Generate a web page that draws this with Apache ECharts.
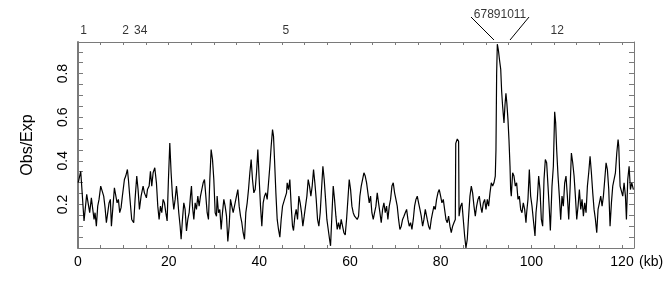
<!DOCTYPE html>
<html><head><meta charset="utf-8">
<script src="https://cdn.jsdelivr.net/npm/echarts@6/dist/echarts.min.js"></script>
<style>html,body{margin:0;padding:0;background:#fff}#c{width:671px;height:301px}</style>
</head><body><div id="c"></div>
<script>
// ---- data ----
const xTickLabels = [0, 20, 40, 60, 80, 100, 120];
const yTickLabels = [0.2, 0.4, 0.6, 0.8];
const geneNames = ['1', '2', '34', '5', '67891011', '12'];
const genePositions = [1.25, 10.5, 13.85, 45.85, 93.1, 105.7];
const geneRaised = [false, false, false, false, true, false];
const leaderKb = [91.77, 95.3];
// [position (kb), Obs/Exp]
const profile = [
[0.05,0.300],[0.6,0.352],[1.33,0.124],[1.92,0.246],[2.29,0.238],[2.58,0.162],[2.95,0.230],[3.17,0.192],[3.54,0.131],[3.76,0.162],[4.05,0.100],[4.35,0.192],[4.64,0.223],[5.01,0.284],[5.38,0.291],[5.67,0.238],[5.97,0.185],[6.26,0.116],[6.56,0.162],[6.85,0.207],[7.14,0.223],[7.37,0.100],[7.66,0.177],[8.03,0.276],[8.32,0.268],[8.62,0.207],[8.91,0.223],[9.2,0.162],[9.5,0.185],[9.79,0.238],[10.24,0.314],[10.53,0.330],[10.9,0.360],[11.12,0.314],[11.41,0.238],[11.85,0.131],[12.29,0.116],[12.59,0.223],[12.96,0.330],[13.25,0.268],[13.55,0.177],[13.92,0.238],[14.36,0.284],[14.65,0.253],[15.09,0.230],
[15.32,0.268],[15.69,0.284],[15.98,0.352],[16.27,0.284],[16.57,0.345],[16.94,0.368],[17.3,0.299],[17.6,0.192],[17.89,0.131],[18.19,0.192],[18.48,0.162],[18.78,0.223],[19.07,0.207],[19.37,0.162],[19.66,0.124],[19.95,0.314],[20.25,0.482],[20.54,0.345],[20.84,0.238],[21.13,0.177],[21.43,0.223],[21.72,0.284],[21.94,0.238],[22.23,0.162],[22.53,0.100],[22.75,0.040],[23.04,0.131],[23.34,0.207],[23.63,0.177],[23.93,0.078],[24.22,0.131],[24.52,0.162],[24.81,0.238],[25.03,0.284],[25.25,0.192],[25.55,0.131],[25.84,0.207],[26.13,0.177],[26.43,0.238],[26.72,0.192],[27.02,0.238],[27.31,0.268],[27.61,0.299],[27.9,0.314],[28.2,0.238],[28.49,0.162],[28.78,0.131],[29.08,0.314],[29.37,0.452],[29.67,0.406],[29.96,0.314],[30.26,0.162],[30.55,0.146],
[30.69,0.238],[30.99,0.162],[31.28,0.177],[31.58,0.085],[31.87,0.162],[32.17,0.223],[32.46,0.192],[32.76,0.146],[33.05,0.030],[33.34,0.100],[33.64,0.223],[33.93,0.192],[34.23,0.162],[34.52,0.192],[34.96,0.238],[35.26,0.268],[35.55,0.192],[35.85,0.146],[36.14,0.116],[36.43,0.070],[36.73,0.040],[37.02,0.162],[37.32,0.207],[37.61,0.268],[37.91,0.345],[38.2,0.406],[38.49,0.314],[38.79,0.253],[39.08,0.268],[39.38,0.345],[39.67,0.452],[39.97,0.314],[40.26,0.192],[40.55,0.100],[40.85,0.207],[41.14,0.238],[41.44,0.253],[41.73,0.223],[42.03,0.299],[42.32,0.375],[42.61,0.467],[42.91,0.543],[43.13,0.513],[43.35,0.406],[43.65,0.253],[43.94,0.131],[44.23,0.085],[44.53,0.050],[44.82,0.131],[45.12,0.192],[45.56,0.223],[46.0,0.253],
[46.14,0.299],[46.44,0.268],[46.73,0.314],[47.03,0.192],[47.32,0.100],[47.54,0.080],[47.84,0.146],[48.13,0.177],[48.43,0.131],[48.72,0.238],[49.01,0.207],[49.31,0.162],[49.6,0.100],[49.9,0.146],[50.19,0.192],[50.49,0.238],[50.78,0.314],[51.07,0.284],[51.37,0.238],[51.66,0.284],[51.96,0.360],[52.25,0.299],[52.55,0.223],[52.84,0.131],[53.13,0.100],[53.43,0.162],[53.72,0.268],[54.02,0.375],[54.31,0.314],[54.61,0.223],[54.9,0.131],[55.2,0.085],[55.49,0.040],[55.71,0.010],[56.0,0.146],[56.3,0.284],[56.59,0.223],[56.89,0.146],[57.18,0.085],[57.48,0.116],[57.77,0.085],[58.06,0.131],[58.36,0.100],[58.65,0.070],[58.95,0.060],[59.24,0.131],[59.54,0.223],[59.83,0.314],[60.13,0.268],[60.42,0.192],[60.71,0.162],[61.01,0.146],
[61.59,0.131],[61.89,0.146],[62.18,0.238],[62.48,0.284],[62.77,0.314],[63.07,0.345],[63.36,0.330],[63.66,0.299],[63.95,0.253],[64.24,0.207],[64.54,0.238],[64.83,0.162],[65.13,0.131],[65.42,0.162],[65.72,0.192],[66.01,0.253],[66.3,0.207],[66.6,0.162],[66.89,0.116],[67.19,0.177],[67.48,0.207],[67.78,0.162],[68.07,0.192],[68.36,0.131],[68.66,0.192],[68.95,0.223],[69.25,0.284],[69.54,0.299],[69.84,0.253],[70.13,0.223],[70.42,0.192],[70.72,0.131],[71.01,0.085],[71.31,0.100],[71.6,0.131],[71.9,0.146],[72.19,0.162],[72.49,0.177],[72.78,0.131],[73.07,0.100],[73.37,0.116],[73.66,0.085],[73.96,0.131],[74.25,0.192],[74.55,0.223],[74.84,0.238],[75.13,0.207],[75.43,0.177],[75.72,0.146],[76.02,0.100],[76.31,0.131],[76.61,0.177],
[77.04,0.131],[77.34,0.100],[77.63,0.085],[77.93,0.131],[78.22,0.162],[78.52,0.192],[78.81,0.177],[79.1,0.223],[79.4,0.253],[79.69,0.268],[79.99,0.238],[80.28,0.207],[80.58,0.223],[80.87,0.177],[81.17,0.131],[81.46,0.116],[81.75,0.146],[82.05,0.100],[82.34,0.070],[82.64,0.100],[82.93,0.116],[83.23,0.131],[83.33,0.480],[83.67,0.500],[83.96,0.490],[84.06,0.146],[84.4,0.192],[84.7,0.207],[84.99,0.131],[85.29,0.055],[85.58,0.000],[85.87,0.040],[86.17,0.146],[86.46,0.238],[86.76,0.284],[87.05,0.253],[87.35,0.192],[87.64,0.146],[87.93,0.192],[88.23,0.223],[88.52,0.238],[88.82,0.192],[89.11,0.162],[89.41,0.207],[89.7,0.223],[90.0,0.177],[90.29,0.223],[90.58,0.192],[90.88,0.253],[91.17,0.299],[91.47,0.284],[91.76,0.299],[92.05,0.330],
[92.2,0.450],[92.35,0.800],[92.5,0.935],[92.75,0.905],[93.0,0.860],[93.25,0.820],[93.45,0.720],[93.67,0.650],[93.97,0.574],[94.2,0.660],[94.4,0.710],[94.6,0.665],[94.85,0.589],[95.07,0.497],[95.3,0.375],[95.44,0.268],[95.58,0.238],
[95.88,0.345],[96.17,0.330],[96.47,0.284],[96.76,0.299],[97.06,0.223],[97.35,0.238],[97.65,0.177],[97.94,0.162],[98.23,0.207],[98.53,0.177],[98.82,0.116],[98.97,0.162],[99.26,0.223],[99.56,0.360],[99.85,0.238],[100.15,0.192],[100.44,0.131],[100.81,0.055],[101.03,0.162],[101.32,0.223],[101.62,0.330],[101.91,0.268],[102.21,0.131],[102.5,0.100],[102.8,0.314],[103.09,0.406],[103.38,0.391],[103.68,0.284],[103.97,0.177],[104.2,0.080],[104.56,0.284],[104.86,0.375],[105.15,0.625],[105.37,0.574],[105.59,0.452],[105.89,0.330],[106.18,0.238],[106.48,0.130],[106.77,0.238],[107.06,0.192],[107.36,0.299],[107.65,0.330],
[107.95,0.238],[108.25,0.131],[108.54,0.268],[108.84,0.436],[109.13,0.391],[109.43,0.330],[109.72,0.238],[110.02,0.131],[110.31,0.192],[110.6,0.268],[110.9,0.177],[111.19,0.223],[111.49,0.146],[111.78,0.207],[112.07,0.162],[112.37,0.284],[112.66,0.345],[112.96,0.421],[113.25,0.345],[113.55,0.253],[113.84,0.177],[114.14,0.131],[114.43,0.070],[114.72,0.177],[115.02,0.207],[115.31,0.238],[115.61,0.192],[115.9,0.238],[116.2,0.314],[116.49,0.391],[116.78,0.360],[117.08,0.268],[117.37,0.100],[117.67,0.207],[117.96,0.284],[118.26,0.284],[118.55,0.345],[118.85,0.436],[119.14,0.497],[119.29,0.467],[119.58,0.284],[119.87,0.284],[120.17,0.238],[120.46,0.299],[120.76,0.238],[120.98,0.131],[121.27,0.314],[121.57,0.375],[121.86,0.268],[122.16,0.299],[122.52,0.268]
];

// ---- chart ----
const X_MAX = 122.65, Y_MAX = 0.945;
const FONT = '"Liberation Sans", Arial, Helvetica, sans-serif';
const AXIS = '#7a7a7a';
const chart = echarts.init(document.getElementById('c'), null, {renderer: 'canvas'});
const fmtX = v => xTickLabels.indexOf(Math.round(v * 100) / 100) >= 0 ? String(Math.round(v)) : '';
const fmtY = v => { const r = Math.round(v * 100) / 100; return yTickLabels.indexOf(r) >= 0 ? r.toFixed(1) : ''; };

const frameX = (pos, extra) => Object.assign({
  type: 'value', position: pos, min: 0, max: X_MAX, interval: 5,
  axisLine: {show: true, onZero: false, lineStyle: {color: AXIS, width: 1}},
  axisTick: {show: true, inside: true, length: 3, lineStyle: {color: AXIS, width: 1}},
  splitLine: {show: false}
}, extra);
const frameY = (pos, extra) => Object.assign({
  type: 'value', position: pos, min: 0, max: Y_MAX, interval: 0.05,
  axisLine: {show: true, onZero: false, lineStyle: {color: AXIS, width: pos === 'left' ? 2 : 1}},
  axisTick: {show: true, inside: true, length: 5, lineStyle: {color: AXIS, width: 1}},
  splitLine: {show: false}
}, extra);

chart.setOption({
  animation: false,
  backgroundColor: '#fff',
  grid: {left: 78, right: 37, top: 42, bottom: 53, containLabel: false},
  xAxis: [
    frameX('bottom', {
      axisLabel: {formatter: fmtX, margin: 7, fontSize: 14, color: '#000', fontFamily: FONT},
      name: '(kb)', nameLocation: 'end', nameGap: 5, nameMoveOverlap: false,
      nameTextStyle: {fontSize: 14, color: '#000', fontFamily: FONT, verticalAlign: 'top', padding: [7, 0, 0, 0]}
    }),
    frameX('top', {axisLabel: {show: false}})
  ],
  yAxis: [
    frameY('left', {
      axisLabel: {formatter: fmtY, rotate: 90, margin: 8, fontSize: 14, color: '#000', fontFamily: FONT},
      name: 'Obs/Exp', nameLocation: 'middle', nameGap: 42,
      nameTextStyle: {fontSize: 16, color: '#000', fontFamily: FONT}
    }),
    frameY('right', {axisLabel: {show: false}})
  ],
  series: [
    {
      type: 'line', xAxisIndex: 0, yAxisIndex: 0, data: profile,
      symbol: 'none', showSymbol: false, clip: true,
      lineStyle: {color: '#000', width: 1.2}
    },
    {
      type: 'scatter', xAxisIndex: 1, yAxisIndex: 0, clip: false,
      symbolSize: 1, itemStyle: {color: 'rgba(0,0,0,0)'},
      data: genePositions.map((p, i) => ({
        value: [p, Y_MAX],
        label: {distance: geneRaised[i] ? 21 : 5}
      })),
      label: {
        show: true, position: 'top', fontSize: 12, color: '#000', fontFamily: FONT,
        formatter: p => geneNames[p.dataIndex]
      },
      silent: true
    }
  ]
});

// leader lines from the grouped gene label down to the top axis
const topY = chart.convertToPixel({yAxisIndex: 0}, Y_MAX);
const lx0 = chart.convertToPixel({xAxisIndex: 1}, leaderKb[0]);
const lx1 = chart.convertToPixel({xAxisIndex: 1}, leaderKb[1]);
chart.setOption({
  graphic: [
    {type: 'line', shape: {x1: lx0, y1: topY - 2, x2: lx0 - 23, y2: topY - 25}, style: {stroke: '#000', lineWidth: 1}, silent: true},
    {type: 'line', shape: {x1: lx1, y1: topY - 2, x2: lx1 + 19, y2: topY - 25}, style: {stroke: '#000', lineWidth: 1}, silent: true}
  ]
});
</script>
</body></html>
